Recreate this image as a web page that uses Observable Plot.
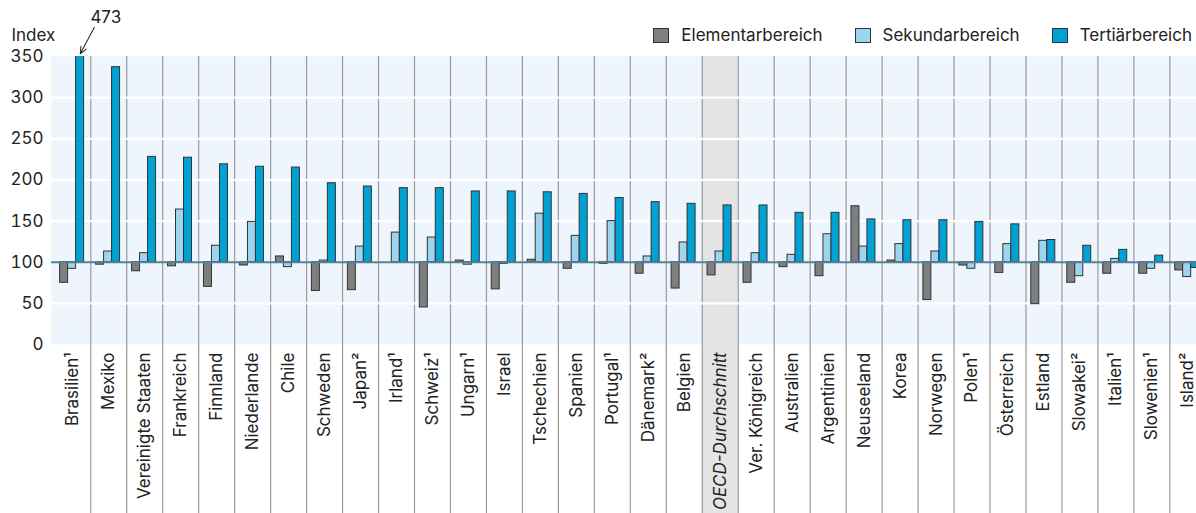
<!DOCTYPE html>
<html>
<head>
<meta charset="utf-8">
<script src="https://cdn.jsdelivr.net/npm/d3@7"></script>
<script src="https://cdn.jsdelivr.net/npm/@observablehq/plot@0.6"></script>
<style>
  html, body { margin: 0; padding: 0; background: #fff; overflow: hidden; }
  #wrap { position: relative; width: 1196px; height: 513px; overflow: hidden; font-family: Inter, "DejaVu Sans", sans-serif; color: #222; }
  #legend { position: absolute; top: 25px; right: 4px; display: flex; gap: 32px; font-size: 17px; white-space: nowrap; }
  .item { display: flex; align-items: center; }
  .sw { width: 14px; height: 13px; border: 1px solid #333; margin-right: 12px; }
</style>
</head>
<body>
<div id="wrap"><div id="chart"></div><div id="legend"></div></div>
<script>
const countries = ["Brasilien¹","Mexiko","Vereinigte Staaten","Frankreich","Finnland","Niederlande","Chile","Schweden","Japan²","Irland¹","Schweiz¹","Ungarn¹","Israel","Tschechien","Spanien","Portugal¹","Dänemark²","Belgien","OECD-Durchschnitt","Ver. Königreich","Australien","Argentinien","Neuseeland","Korea","Norwegen","Polen¹","Österreich","Estland","Slowakei²","Italien¹","Slowenien¹","Island²"];
const elementar = [75,97,89,95,70,96,107,65,66,100,45,102,67,103,92,98,86,68,84,75,94,83,168,102,54,96,87,49,75,86,86,90];
const sekundar  = [92,113,111,164,120,149,94,102,119,136,130,97,98,159,132,150,107,124,113,111,109,134,119,122,113,92,122,126,83,104,92,82];
const tertiaer  = [473,337,228,227,219,216,215,196,192,190,190,186,186,185,183,178,173,171,169,169,160,160,152,151,151,149,146,127,120,115,108,93];
const seriesNames = ["Elementarbereich","Sekundarbereich","Tertiärbereich"];
const seriesColors = ["#7f7f7f","#9dd5ef","#00a1d3"];
const yTicks = [0,50,100,150,200,250,300,350];
const whiteLines = [50,150,200,250,300];
const baseline = 100;
const highlight = "OECD-Durchschnitt";

const W = 1196, H = 513;
const mTop = 56, mBottom = 169, mLeft = 51;
const xStart = 54.3, step = 35.97;
const bw = step;
const barW = 8, barOff = 5.3;
const yMax = yTicks[yTicks.length - 1];
const fs = 17;

const rows = countries.map((c, i) => ({c, v: [elementar[i], sekundar[i], tertiaer[i]]}));

const barMarks = seriesNames.map((s, k) => Plot.barY(rows, {
  x: "c", y1: () => baseline, y2: d => d.v[k],
  fill: seriesColors[k], stroke: "#333", strokeWidth: 1,
  insetLeft: barOff + barW * k, insetRight: bw - barOff - barW * k - barW,
  clip: true
}));

const arrowShape = {
  draw(context, l) {
    context.moveTo(0, 0);
    context.lineTo(0, -l);
    context.moveTo(-3, -l + 7);
    context.lineTo(0, -l);
    context.lineTo(3, -l + 7);
  }
};

const chart = Plot.plot({
  width: W, height: H,
  marginTop: mTop, marginBottom: mBottom, marginLeft: mLeft, marginRight: 0,
  style: {fontFamily: "Inter, 'DejaVu Sans', sans-serif", fontSize: fs + "px", color: "#222", background: "transparent", overflow: "hidden"},
  x: {domain: countries, range: [xStart, xStart + step * countries.length], padding: 0, axis: null},
  y: {domain: [0, yMax], axis: null},
  marks: [
    Plot.frame({fill: "#eef5fc", stroke: null}),
    Plot.cell([highlight], {x: d => d, fill: "#e4e4e4", insetBottom: -mBottom}),
    Plot.ruleX(countries.slice(1), {x: d => d, dx: -bw / 2, stroke: "#9a9a9a", strokeWidth: 1.2, insetBottom: -mBottom}),
    Plot.ruleY(whiteLines, {y: d => d, stroke: "#fff", strokeWidth: 2.2}),
    ...barMarks,
    Plot.ruleY([baseline], {y: d => d, stroke: "#57819a", strokeWidth: 2}),
    Plot.axisY({ticks: yTicks, tickSize: 0, tickPadding: 8, fontSize: fs, label: null}),
    Plot.text(["Index"], {frameAnchor: "top-left", text: d => d, dx: -40, dy: -21, textAnchor: "start", lineAnchor: "middle", fontSize: fs}),
    Plot.text(countries.filter(c => c !== highlight), {x: d => d, text: d => d, frameAnchor: "bottom", rotate: -90, textAnchor: "end", lineAnchor: "middle", dy: 8, fontSize: fs}),
    Plot.text([highlight], {x: d => d, text: d => d, frameAnchor: "bottom", rotate: -90, textAnchor: "end", lineAnchor: "middle", dy: 8, fontSize: fs, fontStyle: "italic"}),
    Plot.vector([rows[0]], {x: "c", y: () => yMax, length: 30, rotate: 208, anchor: "end", dx: 7.5, dy: -2.7, stroke: "#222", strokeWidth: 1, shape: arrowShape}),
    Plot.text([rows[0]], {x: "c", y: () => yMax, text: d => String(d.v[2]), dx: 33, dy: -39, lineAnchor: "middle", fontSize: fs})
  ]
});
document.getElementById("chart").append(chart);

const legend = document.getElementById("legend");
seriesNames.forEach((s, k) => {
  const it = document.createElement("div");
  it.className = "item";
  const sw = document.createElement("span");
  sw.className = "sw";
  sw.style.background = seriesColors[k];
  const t = document.createElement("span");
  t.textContent = s;
  it.append(sw, t);
  legend.append(it);
});
</script>
</body>
</html>
